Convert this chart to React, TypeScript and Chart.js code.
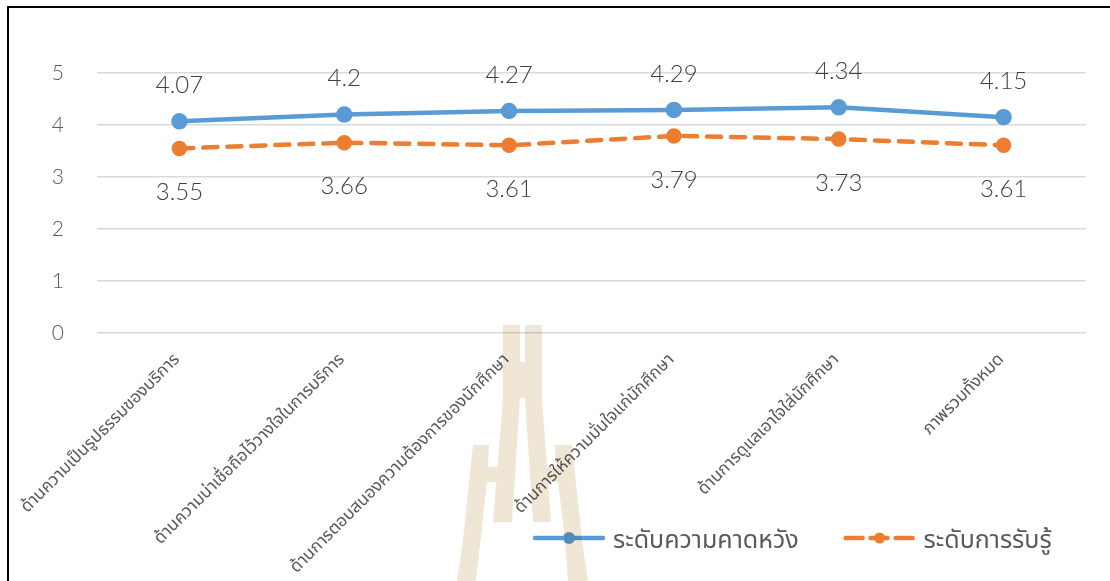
import { useEffect, useRef } from "react";
import { Chart, registerables } from "chart.js";

Chart.register(...registerables);

// Survey dimensions (x axis)
const categories = [
  "ด้านความเป็นรูปธรรมของบริการ",
  "ด้านความน่าเชื่อถือไว้วางใจในการบริการ",
  "ด้านการตอบสนองความต้องการของนักศึกษา",
  "ด้านการให้ความมั่นใจแก่นักศึกษา",
  "ด้านการดูแลเอาใจใส่นักศึกษา",
  "ภาพรวมทั้งหมด",
];

// Mean scores per dimension
const expectationScores = [4.07, 4.2, 4.27, 4.29, 4.34, 4.15];
const perceptionScores = [3.55, 3.66, 3.61, 3.79, 3.73, 3.61];

const seriesNames = ["ระดับความคาดหวัง", "ระดับการรับรู้"];

// Value axis
const yMin = 0;
const yMax = 5;
const yStep = 1;

const FONT = "Lato, 'Noto Sans Thai', 'Noto Sans', sans-serif";
const BLUE = "#5B9BD5";
const ORANGE = "#ED7D31";
const DASH = [14, 10];

// Value labels above / below each point
const valueLabels = {
  id: "valueLabels",
  afterDatasetsDraw(chart: any) {
    const ctx = chart.ctx;
    ctx.save();
    ctx.font = `300 24px ${FONT}`;
    ctx.fillStyle = "#404040";
    ctx.textAlign = "center";
    ctx.textBaseline = "middle";
    chart.data.datasets.forEach((ds: any, i: number) => {
      const meta = chart.getDatasetMeta(i);
      const offset = i === 0 ? -36 : 44;
      meta.data.forEach((pt: any, j: number) => {
        ctx.fillText(String(ds.data[j]), pt.x, pt.y + offset);
      });
    });
    ctx.restore();
  },
};

// Legend drawn in the lower right area
const sideLegend = {
  id: "sideLegend",
  afterDraw(chart: any, _args: any, opts: any) {
    const ctx = chart.ctx;
    ctx.save();
    ctx.font = `25px ${FONT}`;
    ctx.textBaseline = "middle";
    let x = opts.x;
    const y = opts.y;
    chart.data.datasets.forEach((ds: any) => {
      const len = 72;
      ctx.strokeStyle = ds.borderColor;
      ctx.lineWidth = ds.borderWidth;
      ctx.lineCap = "round";
      ctx.setLineDash(ds.borderDash ? [17, 8] : []);
      ctx.beginPath();
      ctx.moveTo(x + 2, y);
      ctx.lineTo(x + len - 2, y);
      ctx.stroke();
      ctx.setLineDash([]);
      ctx.fillStyle = ds.pointBackgroundColor;
      ctx.beginPath();
      ctx.arc(x + len / 2, y, ds.pointRadius, 0, Math.PI * 2);
      ctx.fill();
      ctx.fillStyle = "#595959";
      ctx.textAlign = "left";
      const tx = x + len + 8;
      ctx.fillText(ds.label, tx, y + 2);
      x = tx + ctx.measureText(ds.label).width + 45;
    });
    ctx.restore();
  },
};

export default function App() {
  const canvasRef = useRef<HTMLCanvasElement | null>(null);

  useEffect(() => {
    const canvas = canvasRef.current;
    if (!canvas) return;
    const chart = new Chart(canvas, {
      type: "line",
      data: {
        labels: categories,
        datasets: [
          {
            label: seriesNames[0],
            data: expectationScores,
            borderColor: BLUE,
            backgroundColor: BLUE,
            pointBackgroundColor: BLUE,
            pointBorderColor: BLUE,
            borderWidth: 4.5,
            pointRadius: 6,
            pointHoverRadius: 6,
            tension: 0,
          } as any,
          {
            label: seriesNames[1],
            data: perceptionScores,
            borderColor: ORANGE,
            backgroundColor: ORANGE,
            pointBackgroundColor: ORANGE,
            pointBorderColor: ORANGE,
            borderWidth: 4.5,
            borderDash: DASH,
            borderCapStyle: "round",
            pointRadius: 5.5,
            pointHoverRadius: 5.5,
            tension: 0,
          } as any,
        ],
      },
      options: {
        responsive: false,
        animation: false,
        devicePixelRatio: 1,
        layout: { padding: { top: 73, right: 24, bottom: 0, left: 0 } },
        scales: {
          x: {
            offset: true,
            grid: { display: false, drawTicks: false },
            border: { display: false },
            ticks: {
              autoSkip: false,
              maxRotation: 45,
              minRotation: 45,
              padding: 16,
              labelOffset: -3,
              color: "#595959",
              font: { family: FONT, size: 17 },
            },
            afterFit: (scale: any) => {
              scale.height = 248;
            },
          },
          y: {
            min: yMin,
            max: yMax,
            grid: { color: "#D9D9D9", lineWidth: 1.5, drawTicks: false },
            border: { display: false },
            ticks: {
              stepSize: yStep,
              padding: 33,
              color: "#595959",
              font: { family: FONT, size: 21, weight: 300 },
            },
            afterFit: (scale: any) => {
              scale.width = 97;
            },
          },
        },
        plugins: {
          legend: { display: false },
          tooltip: { enabled: false },
          sideLegend: { x: 533, y: 538 },
        } as any,
      },
      plugins: [valueLabels, sideLegend],
    });
    return () => chart.destroy();
  }, []);

  return (
    <div
      style={{
        position: "fixed",
        left: 0,
        top: 0,
        width: 1110,
        height: 581,
        overflow: "hidden",
        background: "#fff",
      }}
    >
      <div
        style={{
          position: "absolute",
          left: 7,
          top: 6,
          width: 1200,
          height: 700,
          borderLeft: "2px solid #000",
          borderTop: "2px solid #000",
        }}
      />
      <canvas
        ref={canvasRef}
        width={1110}
        height={581}
        style={{ position: "absolute", left: 0, top: 0 }}
      />
      {/* tower emblem, blended over the chart */}
      <svg
        width={1110}
        height={581}
        style={{ position: "absolute", left: 0, top: 0, mixBlendMode: "multiply", pointerEvents: "none" }}
      >
        <g fill="#EFE6D6">
          <path d="M503 325 L520 325 L520 362 L525 362 L525 325 L542 325 L542 398 L551 522 L533 522 L525 398 L520 398 L512 522 L493 522 L503 398 Z" />
          <path d="M473 445 L489 445 L488 467 L500 467 L499 482 L487 482 L476 581 L457 581 L463 540 Z" />
          <path d="M555 445 L572 445 L582 540 L588 581 L568 581 L565 540 L558 482 L546 482 L545 467 L556 467 Z" />
        </g>
      </svg>
    </div>
  );
}
